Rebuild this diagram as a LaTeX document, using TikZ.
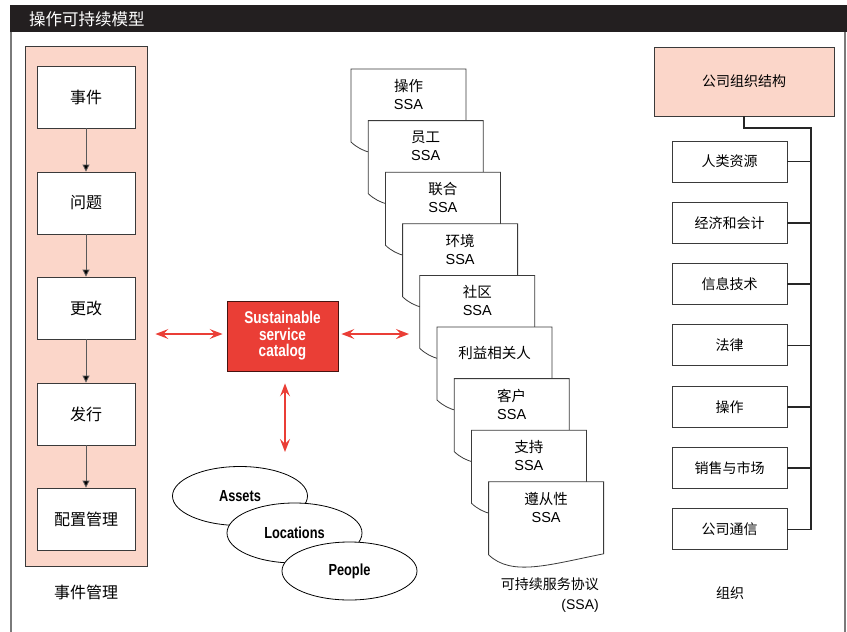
\documentclass[tikz,border=0pt]{standalone}
\usepackage{fontspec}
\setmainfont{Liberation Sans}
\newfontfamily\cjk{Noto Sans CJK SC}
\newfontfamily\cond{Liberation Sans}[FakeStretch=0.8]
\usetikzlibrary{arrows.meta,shapes.geometric,calc}
\definecolor{pinkfill}{HTML}{FBD6C9}
\definecolor{catred}{HTML}{EA3E36}
\definecolor{barblack}{HTML}{231F20}
\definecolor{edge}{HTML}{3A3A3A}
\definecolor{framegray}{HTML}{7A7A7A}
\tikzset{
  boxstyle/.style={draw=edge, line width=0.9pt, fill=white, inner sep=0pt},
  leftbox/.style={boxstyle, minimum width=98pt, minimum height=62pt, font=\cjk\fontsize{16}{18}\selectfont},
  orgbox/.style={boxstyle, minimum width=115pt, minimum height=41pt, font=\cjk\fontsize{14}{16}\selectfont},
  flow/.style={draw=black!65, line width=0.9pt, -{Triangle[length=7pt,width=7pt,fill=black]}},
  redarrow/.style={draw=catred, line width=1.3pt, {Stealth[length=13pt,width=10pt,inset=5pt]}-{Stealth[length=13pt,width=10pt,inset=5pt]}},
  bus/.style={draw=black!85, line width=1.6pt},
  ovalstyle/.style={ellipse, draw=black, line width=0.8pt, fill=white, inner sep=0pt, minimum width=135pt, font=\cond\bfseries\fontsize{16}{17}\selectfont},
  docline/.style={draw=edge, line width=0.8pt, fill=white},
  ssatext/.style={align=center, font=\fontsize{14.5}{18}\selectfont},
  plainlabel/.style={font=\cjk\fontsize{16}{18}\selectfont}
}
\newcommand\ssabox[2]{%
  \pgfmathsetmacro\sx{351+17.2*#1}%
  \pgfmathsetmacro\sy{69+51.6*#1}%
  \draw[docline] (\sx,\sy) -- (\sx+115,\sy) -- (\sx+115,\sy+72)
     .. controls (\sx+60,\sy+83) and (\sx+23,\sy+95) .. (\sx,\sy+73) -- cycle;
  \node[ssatext] (ssa#1) at (\sx+57.5,\sy+25.5) {#2};
}
\begin{document}
\begin{tikzpicture}[x=1pt,y=-1pt]
\useasboundingbox (0,0) rectangle (847,632);
% title bar and frame
\fill[barblack] (10,5) rectangle (847,32);
\node[anchor=west, text=white, inner sep=0pt, font=\cjk\fontsize{16.5}{18}\selectfont] (title) at (29,19) {操作可持续模型};
\draw[framegray, line width=1.5pt] (11,32) -- (11,632);
\draw[framegray, line width=1.5pt] (845,32) -- (845,632);

% left panel
\node[draw=edge, line width=0.9pt, fill=pinkfill, minimum width=122pt, minimum height=520pt, inner sep=0pt] (panel) at (86,306) {};
\node[leftbox] (b1) at (86,97) {事件};
\node[leftbox] (b2) at (86,203) {问题};
\node[leftbox] (b3) at (86,308) {更改};
\node[leftbox] (b4) at (86,414) {发行};
\node[leftbox] (b5) at (86,519) {配置管理};
\draw[flow] (b1) -- (b2);
\draw[flow] (b2) -- (b3);
\draw[flow] (b3) -- (b4);
\draw[flow] (b4) -- (b5);
\node[plainlabel] (panellabel) at (86,592) {事件管理};

% catalog
\node[draw=black!70!catred, line width=0.9pt, fill=catred, minimum width=111pt, minimum height=70pt, inner sep=0pt,
      text=white, align=center, font=\cond\bfseries\fontsize{17}{16.5}\selectfont] (cat) at (282.5,336) {Sustainable\\service\\catalog};

% ellipses
\node[ovalstyle, minimum height=59pt] (assets) at (240,496) {Assets};
\node[ovalstyle, minimum height=60pt] (locations) at (294.5,533) {Locations};
\node[ovalstyle, minimum height=58pt] (people) at (349.5,571) {People};

% SSA stack
\ssabox{0}{{\cjk 操作}\\SSA}
\ssabox{1}{{\cjk 员工}\\SSA}
\ssabox{2}{{\cjk 联合}\\SSA}
\ssabox{3}{{\cjk 环境}\\SSA}
\ssabox{4}{{\cjk 社区}\\SSA}
\ssabox{5}{{\cjk 利益相关人}}
\ssabox{6}{{\cjk 客户}\\SSA}
\ssabox{7}{{\cjk 支持}\\SSA}
\ssabox{8}{{\cjk 遵从性}\\SSA}
\node[anchor=east, align=right, inner sep=0pt, font=\fontsize{14}{20}\selectfont] (ssacap) at (599,595) {{\cjk 可持续服务协议}\\(SSA)};

% red arrows
\coordinate (stackin) at (409,334);
\coordinate (catdown) at (285,452);
\draw[redarrow] ($(panel.east|-cat.west)+(8,-2)$) -- ($(cat.west)+(-4,-2)$);
\draw[redarrow] ($(cat.east)+(3,-2)$) -- (stackin);
\draw[redarrow] ($(cat.south)+(2.5,12)$) -- (catdown);

% organisation
\node[draw=edge, line width=0.9pt, fill=pinkfill, minimum width=180pt, minimum height=69pt, inner sep=0pt,
      font=\cjk\fontsize{14}{16}\selectfont] (org) at (744,81.5) {公司组织结构};
\node[orgbox] (o1) at (729.5,161.5) {人类资源};
\node[orgbox] (o2) at (729.5,222.8) {经济和会计};
\node[orgbox] (o3) at (729.5,284.1) {信息技术};
\node[orgbox] (o4) at (729.5,345.4) {法律};
\node[orgbox] (o5) at (729.5,406.7) {操作};
\node[orgbox] (o6) at (729.5,468) {销售与市场};
\node[orgbox] (o7) at (729.5,529.3) {公司通信};
\coordinate (bustop) at (811,128);
\draw[bus] (org.south) |- (bustop) -- (o7.east -| bustop) -- (o7.east);
\foreach \k in {1,...,6} { \draw[bus] (o\k.east) -- (o\k.east -| bustop); }
\node[font=\cjk\fontsize{14}{16}\selectfont] (orglabel) at (730,593) {组织};
\end{tikzpicture}
\end{document}
